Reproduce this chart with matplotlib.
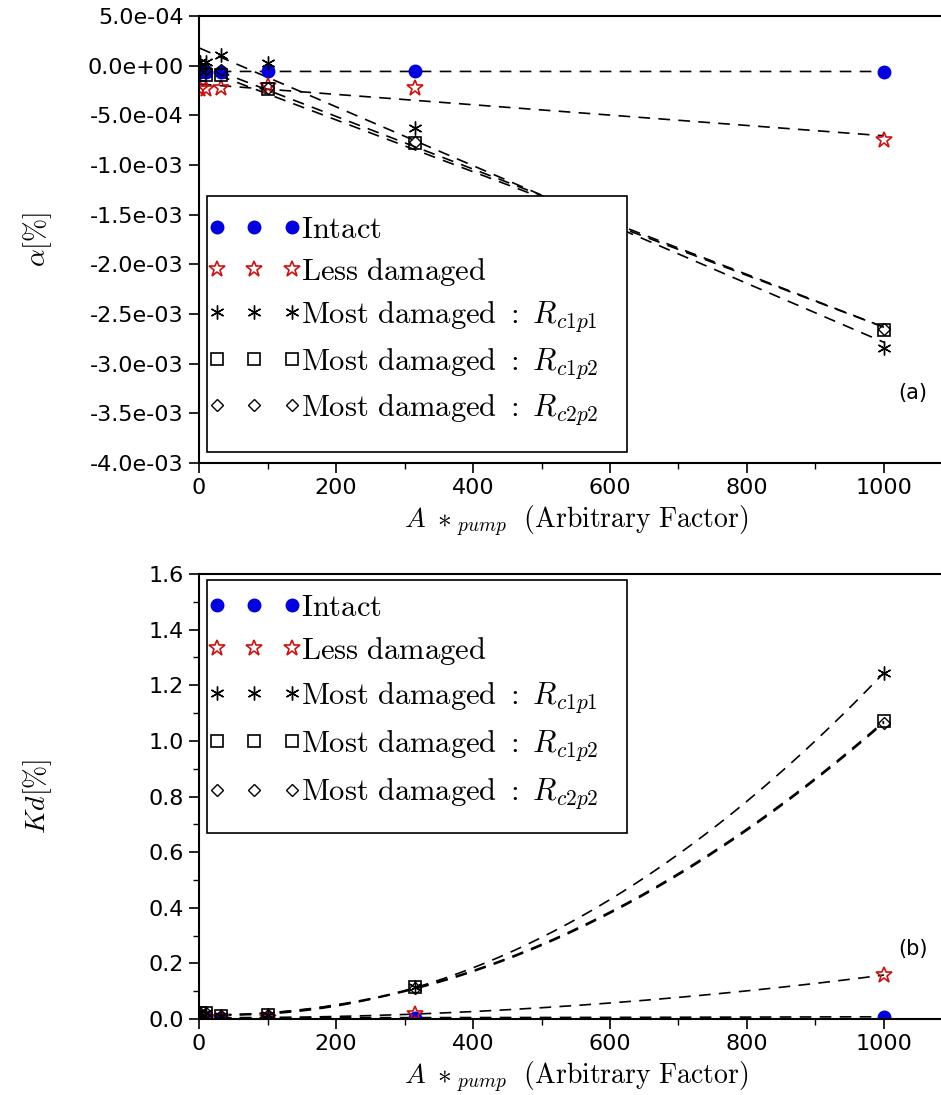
import numpy as np
import matplotlib
matplotlib.use('Agg')
import matplotlib.pyplot as plt
from matplotlib.patches import Rectangle
from matplotlib.ticker import MultipleLocator, FormatStrFormatter

plt.rcParams['mathtext.fontset'] = 'cm'
plt.rcParams['font.family'] = 'DejaVu Sans'

# pump factor (same for every series)
pump = [1, 10, 31.6, 100, 316, 1000]

# panel (a): alpha [%]
alpha_intact = [-6e-5, -6e-5, -6e-5, -5.5e-5, -5.5e-5, -6e-5]
alpha_less = [-2.4e-4, -2.4e-4, -2.2e-4, -2.0e-4, -2.2e-4, -7.5e-4]
alpha_c1p1 = [0.4e-4, 0.4e-4, 1.1e-4, 0.3e-4, -6.3e-4, -2.84e-3]
alpha_c1p2 = [-0.9e-4, -0.9e-4, -0.9e-4, -2.4e-4, -7.8e-4, -2.66e-3]
alpha_c2p2 = [-0.3e-4, -0.3e-4, -0.4e-4, -2.3e-4, -7.7e-4, -2.65e-3]

# panel (b): Kd [%]
kd_intact = [0.005, 0.005, 0.004, 0.005, 0.005, 0.008]
kd_less = [0.005, 0.005, 0.003, 0.005, 0.018, 0.158]
kd_c1p1 = [0.02, 0.02, 0.01, 0.015, 0.115, 1.245]
kd_c1p2 = [0.02, 0.02, 0.01, 0.015, 0.115, 1.07]
kd_c2p2 = [0.02, 0.02, 0.01, 0.015, 0.112, 1.065]

labels = [r'$\mathrm{Intact}$',
          r'$\mathrm{Less\ damaged}$',
          r'$\mathrm{Most\ damaged}\ :\ R_{c1p1}$',
          r'$\mathrm{Most\ damaged}\ :\ R_{c1p2}$',
          r'$\mathrm{Most\ damaged}\ :\ R_{c2p2}$']

styles = [dict(marker='o', color='#0000e0', mfc='#0000e0', mec='#0000e0', ms=9),
          dict(marker='*', color='#d01010', mfc='none', mec='#d01010', ms=12, mew=1.2),
          dict(marker=(6, 2, 0), color='k', mfc='none', mec='k', ms=10, mew=1.0),
          dict(marker='s', color='k', mfc='none', mec='k', ms=8, mew=1.2),
          dict(marker='D', color='k', mfc='none', mec='k', ms=6, mew=1.0)]

fig = plt.figure(figsize=(9.41, 10.95), dpi=100)
ax1 = fig.add_axes([0.2115, 0.5772, 0.8007, 0.4082])
ax2 = fig.add_axes([0.2115, 0.0694, 0.8007, 0.4064])

xx = np.linspace(1, 1000, 200)


def draw(ax, series, deg):
    # fitted trend lines first, markers on top
    for ys in series:
        coef = np.polyfit(pump, ys, deg)
        ax.plot(xx, np.polyval(coef, xx), color='k', lw=1.2, ls=(0, (7, 5)))
    for ys, lab, st in zip(series, labels, styles):
        ax.plot(pump, ys, ls='none', label=lab, **st)


draw(ax1, [alpha_intact, alpha_less, alpha_c1p1, alpha_c1p2, alpha_c2p2], 1)
draw(ax2, [kd_intact, kd_less, kd_c1p1, kd_c1p2, kd_c2p2], 2)

ax1.set_ylim(-4e-3, 5e-4)
ax1.yaxis.set_major_locator(MultipleLocator(5e-4))
ax1.yaxis.set_major_formatter(FormatStrFormatter('%.1e'))
ax2.set_ylim(0, 1.6)
ax2.yaxis.set_major_locator(MultipleLocator(0.2))
ax2.yaxis.set_minor_locator(MultipleLocator(0.1))
ax2.yaxis.set_major_formatter(FormatStrFormatter('%.1f'))

for ax in (ax1, ax2):
    ax.set_xlim(0, 1100)
    ax.xaxis.set_major_locator(MultipleLocator(200))
    ax.xaxis.set_minor_locator(MultipleLocator(100))
    ax.tick_params(which='major', direction='out', length=7, width=1.2, labelsize=16, pad=4)
    ax.tick_params(which='minor', direction='out', length=4, width=1.0)
    for s in ax.spines.values():
        s.set_linewidth(1.5)
    ax.set_xlabel(r'$A\ *_{pump}\ \ \mathrm{(Arbitrary\ Factor)}$', fontsize=20, labelpad=4)

ax1.set_ylabel(r'$\alpha[\%]$', fontsize=20)
ax2.set_ylabel(r'$Kd[\%]$', fontsize=20)
ax1.yaxis.set_label_coords(-0.193, 0.5)
ax2.yaxis.set_label_coords(-0.193, 0.5)

# legends: entries without frame, box drawn separately
leg_kw = dict(numpoints=3, fontsize=22, frameon=False, loc='upper left',
              handlelength=3.05, handletextpad=0.0,
              borderpad=0.0, borderaxespad=0.0)
ax1.legend(bbox_to_anchor=(0.0117, 0.555), labelspacing=0.38, **leg_kw)
ax2.legend(bbox_to_anchor=(0.0117, 0.9575), labelspacing=0.43, **leg_kw)
ax1.add_patch(Rectangle((0.0106, 0.0246), 0.557, 0.573, transform=ax1.transAxes,
                        fill=True, fc='white', ec='k', lw=1.2, zorder=2.5))
ax2.add_patch(Rectangle((0.0106, 0.418), 0.557, 0.5685, transform=ax2.transAxes,
                        fill=True, fc='white', ec='k', lw=1.2, zorder=2.5))

ax1.text(1042, -3.3e-3, '(a)', fontsize=15, ha='center', va='center')
ax2.text(1042, 0.25, '(b)', fontsize=15, ha='center', va='center')

fig.savefig('out.png', dpi=100)
